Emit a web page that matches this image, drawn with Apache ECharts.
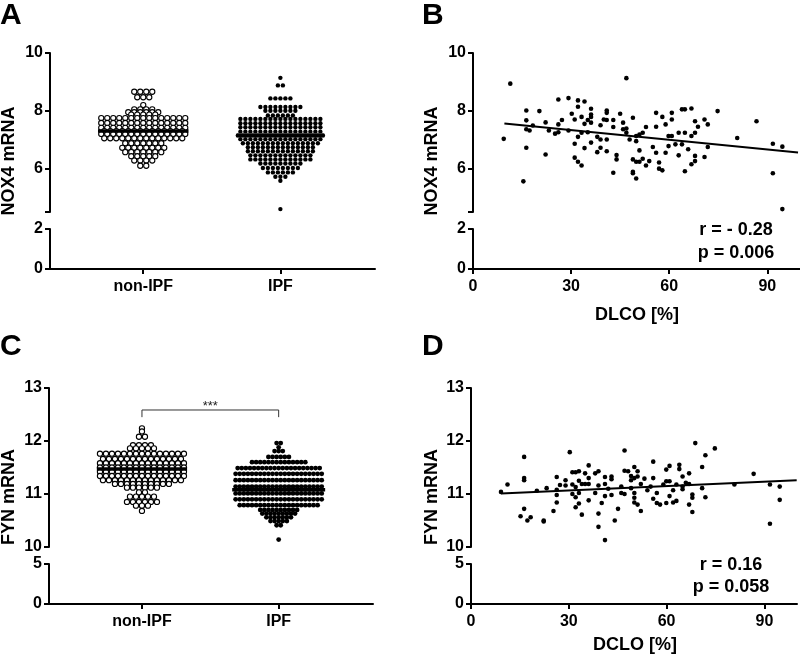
<!DOCTYPE html>
<html>
<head>
<meta charset="utf-8">
<script src="https://cdn.jsdelivr.net/npm/echarts@6/dist/echarts.min.js"></script>
<style>
  html, body { margin: 0; padding: 0; background: #fff; }
  #chart-container { width: 800px; height: 658px; }
</style>
</head>
<body>
<div id="chart-container"></div>
<script>
// dot plot rows: [value, dots in that row]
var nox4NonIpfRows = [
  [8.66, 4], [8.47, 3], [8.2, 1], [8.05, 4], [7.95, 6], [7.87, 5], [7.75, 15], [7.58, 15],
  [7.41, 15], [7.3, 14], [7.2, 15], [7.05, 14], [6.88, 7], [6.72, 8], [6.57, 7],
  [6.43, 5], [6.28, 4], [6.1, 2]
];
var nox4IpfRows = [
  [9.14, 1], [8.88, 2], [8.43, 5], [8.13, 9], [8.0, 7], [7.84, 6], [7.72, 17], [7.57, 17],
  [7.43, 17], [7.28, 17], [7.15, 18], [7.02, 17], [6.88, 16], [6.74, 14], [6.6, 14],
  [6.46, 13], [6.32, 13], [6.18, 9], [6.02, 8], [5.87, 6], [5.72, 3], [5.58, 1], [4.6, 1]
];
var fynNonIpfRows = [
  [12.24, 1], [12.18, 1], [12.08, 2], [11.92, 4], [11.86, 5], [11.76, 15], [11.66, 14],
  [11.58, 15], [11.5, 15], [11.42, 15], [11.34, 15], [11.26, 14], [11.19, 10], [11.12, 6],
  [11.03, 2], [10.95, 5], [10.85, 6], [10.78, 3], [10.68, 1]
];
var fynIpfRows = [
  [11.96, 2], [11.88, 1], [11.81, 3], [11.7, 6], [11.6, 14], [11.49, 21], [11.38, 22],
  [11.26, 22], [11.14, 22], [11.01, 22], [10.9, 22], [10.79, 20], [10.7, 10], [10.63, 9],
  [10.56, 7], [10.49, 5], [10.41, 2], [10.14, 1]
];
var groupNames = ['non-IPF', 'IPF'];
var nox4Means = [7.3, 7.15];
var fynMeans = [11.47, 11.08];

// DLCO [%] vs mRNA
var dlcoNox4 = [
  [9.4, 7.03], [11.4, 8.94], [15.4, 5.56], [16.3, 8.01], [16.3, 7.67], [16.3, 7.36], [16.3, 6.72],
  [17.3, 7.32], [18.3, 7.49], [20.3, 7.99], [22.2, 7.6], [22.2, 6.49], [23.2, 7.32], [25.1, 7.21],
  [26.1, 8.39], [26.1, 7.53], [26.1, 7.26], [27.2, 7.68], [29.2, 8.44], [29.2, 7.32], [30.2, 7.9],
  [31.1, 7.7], [31.1, 6.86], [31.1, 6.38], [32.1, 8.36], [32.1, 8.14], [32.1, 7.1], [32.1, 6.24],
  [33.2, 7.79], [33.2, 7.24], [33.2, 6.11], [34.1, 8.32], [34.1, 7.55], [34.1, 6.71], [35.1, 7.68],
  [35.1, 7.26], [36.1, 8.07], [36.1, 7.87], [36.1, 7.79], [36.1, 7.59], [36.1, 6.9], [38, 7.1],
  [38, 6.57], [39, 7.5], [39, 7.01], [39, 6.72], [40, 7.7], [40.9, 8.01], [40.9, 7.93], [40.9, 7.68],
  [40.9, 7.01], [40.9, 6.6], [42.9, 7.68], [42.9, 7.44], [42.9, 5.86], [43.9, 6.47], [43.9, 6.32],
  [45, 7.9], [45.9, 7.59], [45.9, 7.36], [46.9, 9.13], [46.9, 7.39], [46.9, 7.24], [47.9, 7.01],
  [48.9, 7.76], [48.9, 6.32], [48.9, 5.89], [48.9, 5.84], [49.9, 7.13], [49.9, 6.95], [49.9, 6.24],
  [49.9, 5.66], [50.9, 7.18], [50.9, 6.63], [50.9, 6.24], [51.9, 7.24], [51.9, 6.34], [52.9, 7.44],
  [52.9, 6.11], [53.9, 6.26], [55, 6.75], [56, 7.93], [56, 7.45], [56, 6.55], [56.9, 6.21],
  [56.9, 6.0], [57.9, 7.79], [57.9, 5.94], [58.9, 7.53], [58.9, 6.55], [59.8, 7.13], [59.8, 6.78],
  [60.8, 7.93], [60.8, 7.7], [60.8, 7.13], [61.9, 6.84], [62.9, 7.24], [62.9, 6.46], [63.9, 8.05],
  [63.9, 6.84], [64.8, 8.05], [64.8, 7.24], [64.8, 5.91], [65.8, 6.67], [66.8, 8.08], [66.8, 7.13],
  [66.8, 6.15], [67.9, 7.64], [67.9, 7.24], [67.9, 6.44], [67.9, 6.26], [68.8, 7.45], [70.8, 7.7],
  [70.8, 6.4], [71.8, 7.53], [71.8, 6.75], [74.8, 7.99], [80.8, 7.06], [86.7, 7.64], [91.7, 6.86],
  [91.7, 5.84], [94.6, 6.76], [94.6, 4.6]
];
var dlcoFyn = [
  [9.2, 11.04], [11.2, 11.18], [15.2, 10.58], [16.3, 11.7], [16.3, 11.3], [16.3, 11.26], [16.3, 10.72],
  [17.3, 10.5], [18.3, 10.56], [20.2, 11.06], [22.3, 10.5], [22.3, 10.48], [23.2, 11.11], [25.3, 10.68],
  [26.3, 11.32], [26.3, 11.08], [26.3, 10.98], [26.3, 10.84], [27.3, 11.17], [29, 11.26], [29, 11.16],
  [30.3, 11.79], [31.1, 11.41], [31.1, 11.18], [31.1, 11.0], [32.1, 11.41], [32.1, 11.13], [32.1, 10.94],
  [32.1, 10.75], [33.1, 11.43], [33.1, 11.25], [33.1, 11.02], [33.1, 10.82], [34, 11.19], [34, 10.61],
  [35, 11.39], [35, 11.19], [36.1, 11.54], [36.1, 11.3], [36.1, 11.19], [36.1, 10.88], [38.1, 11.39],
  [38.1, 11.02], [39.1, 11.43], [39.1, 11.16], [39.1, 10.63], [39.1, 10.38], [40.1, 10.83], [41.1, 11.32],
  [41.1, 11.19], [41.1, 10.96], [41.1, 10.13], [42.1, 11.1], [43.1, 11.33], [43.1, 11.28], [43.1, 10.98],
  [44.1, 10.5], [45.1, 10.72], [46.1, 11.14], [46.1, 11.02], [47.1, 11.82], [47.1, 11.44], [47.1, 11.0],
  [48.2, 11.43], [49.1, 11.34], [49.1, 11.26], [49.1, 11.11], [50.1, 11.51], [50.1, 11.3], [50.1, 11.02],
  [50.1, 10.93], [50.1, 10.84], [51.1, 11.43], [51.1, 11.33], [51.1, 10.8], [52.1, 10.68], [52.1, 11.19],
  [53.2, 11.29], [54.1, 11.07], [55.1, 11.14], [55.9, 11.61], [55.9, 11.3], [55.9, 10.91], [57, 11.02],
  [57, 10.83], [58, 10.8], [59, 11.18], [59.9, 11.24], [59.9, 10.83], [59.9, 11.46], [60.9, 11.53],
  [60.9, 11.24], [60.9, 10.96], [62, 11.07], [62, 10.84], [63, 10.87], [63, 11.18], [63.9, 11.55],
  [63.9, 11.47], [64.9, 11.33], [64.9, 11.14], [64.9, 11.09], [65.9, 11.21], [66.9, 11.39], [66.9, 11.19],
  [66.9, 10.8], [67.9, 10.99], [67.9, 10.93], [67.9, 10.66], [68.8, 11.96], [70.9, 11.51], [70.9, 11.11],
  [71.9, 11.73], [71.9, 10.94], [74.8, 11.86], [80.8, 11.18], [86.7, 11.38], [91.7, 11.18], [91.7, 10.44],
  [94.7, 11.14], [94.7, 10.89]
];
var nox4Fit = [[9.6, 7.56], [99.4, 6.56]];
var fynFit = [[9.2, 11.01], [99.9, 11.26]];
var nox4Stats = ['r = - 0.28', 'p = 0.006'];
var fynStats = ['r = 0.16', 'p = 0.058'];
var dlcoTicks = [0, 30, 60, 90];

var FONT = '"Liberation Sans", Arial, sans-serif';
var catMin = 0.32, catMax = 2.69;

// spread the dots of each row side by side around the group centre
function dotRows(rows, center, stepPx, pxPerUnit) {
  var out = [];
  rows.forEach(function (r) {
    for (var i = 0; i < r[1]; i++) {
      out.push([center + (i - (r[1] - 1) / 2) * stepPx / pxPerUnit, r[0]]);
    }
  });
  return out;
}

var grids = [
  { left: 50, top: 53, width: 325, height: 159 },
  { left: 50, top: 229, width: 325, height: 40 },
  { left: 473, top: 53, width: 327, height: 159 },
  { left: 473, top: 229, width: 327, height: 40 },
  { left: 49, top: 388, width: 324, height: 159 },
  { left: 49, top: 564, width: 324, height: 40 },
  { left: 471, top: 388, width: 326, height: 159 },
  { left: 471, top: 564, width: 326, height: 40 }
];

var axisLabelStyle = { color: '#000', fontSize: 16, fontWeight: 'bold', fontFamily: FONT };

function yAx(gi, min, max, labels, ticks) {
  return {
    type: 'value', gridIndex: gi, min: min, max: max,
    axisLine: { show: true, onZero: false, lineStyle: { color: '#000', width: 2 } },
    axisTick: { show: true, length: 5, customValues: ticks, lineStyle: { color: '#000', width: 2 } },
    axisLabel: Object.assign({ customValues: labels, margin: 7 }, axisLabelStyle),
    splitLine: { show: false }
  };
}

function xAx(gi, kind, visible) {
  var a = {
    type: 'value', gridIndex: gi, show: visible,
    axisLine: { show: true, onZero: false, lineStyle: { color: '#000', width: 2 } },
    axisTick: { show: true, length: 5, lineStyle: { color: '#000', width: 2 } },
    axisLabel: Object.assign({ margin: 10 }, axisLabelStyle),
    splitLine: { show: false }
  };
  if (kind === 'cat') {
    a.min = catMin; a.max = catMax;
    a.axisTick.customValues = [1, 2];
    a.axisLabel.customValues = [1, 2];
    a.axisLabel.formatter = function (v) { return groupNames[Math.round(v) - 1]; };
  } else {
    a.min = 0; a.max = 100;
    a.axisTick.customValues = dlcoTicks;
    a.axisLabel.customValues = dlcoTicks;
  }
  return a;
}

var xAxes = [
  xAx(0, 'cat', false), xAx(1, 'cat', true),
  xAx(2, 'num', false), xAx(3, 'num', true),
  xAx(4, 'cat', false), xAx(5, 'cat', true),
  xAx(6, 'num', false), xAx(7, 'num', true)
];
var yAxes = [
  yAx(0, 4.5, 10, [6, 8, 10], [4.5, 6, 8, 10]), yAx(1, 0, 2, [0, 2], [0, 2]),
  yAx(2, 4.5, 10, [6, 8, 10], [4.5, 6, 8, 10]), yAx(3, 0, 2, [0, 2], [0, 2]),
  yAx(4, 10, 13, [10, 11, 12, 13], [10, 11, 12, 13]), yAx(5, 0, 5, [0, 5], [0, 5]),
  yAx(6, 10, 13, [10, 11, 12, 13], [10, 11, 12, 13]), yAx(7, 0, 5, [0, 5], [0, 5])
];

var pxA = 325 / (catMax - catMin);
var pxC = 324 / (catMax - catMin);

function openDots(data, idx) {
  return {
    type: 'scatter', xAxisIndex: idx, yAxisIndex: idx, data: data, symbolSize: 5.2, z: 2,
    itemStyle: { color: '#fff', borderColor: '#000', borderWidth: 1.1, opacity: 1 },
    emphasis: { disabled: true }
  };
}
function fullDots(data, idx, size) {
  return {
    type: 'scatter', xAxisIndex: idx, yAxisIndex: idx, data: data, symbolSize: size, z: 2,
    itemStyle: { color: '#000', opacity: 1 }, emphasis: { disabled: true }
  };
}
function meanLine(center, mean, half, idx) {
  return {
    type: 'line', xAxisIndex: idx, yAxisIndex: idx, symbol: 'none', z: 4,
    data: [[center - half, mean], [center + half, mean]],
    lineStyle: { color: '#000', width: 3.5 }
  };
}
function fitLine(data, idx) {
  return {
    type: 'line', xAxisIndex: idx, yAxisIndex: idx, symbol: 'none', z: 4, data: data,
    lineStyle: { color: '#000', width: 2 }
  };
}

var series = [
  openDots(dotRows(nox4NonIpfRows, 1, 6, pxA), 0),
  fullDots(dotRows(nox4IpfRows, 2, 5, pxA), 0, 4.4),
  meanLine(1, nox4Means[0], 0.33, 0),
  meanLine(2, nox4Means[1], 0.32, 0),
  fullDots(dlcoNox4, 2, 4.6),
  fitLine(nox4Fit, 2),
  openDots(dotRows(fynNonIpfRows, 1, 6, pxC), 4),
  fullDots(dotRows(fynIpfRows, 2, 4.1, pxC), 4, 4.8),
  meanLine(1, fynMeans[0], 0.33, 4),
  meanLine(2, fynMeans[1], 0.34, 4),
  // significance bracket
  {
    type: 'line', xAxisIndex: 4, yAxisIndex: 4, symbol: 'none', z: 4,
    data: [[1, 12.45], [1, 12.585], [2, 12.585], [2, 12.45]],
    lineStyle: { color: '#333', width: 1 },
    markPoint: {
      symbol: 'circle', symbolSize: 0,
      data: [{ coord: [1.5, 12.66] }],
      label: { show: true, formatter: '***', color: '#222', fontSize: 13, fontFamily: FONT }
    }
  },
  fullDots(dlcoFyn, 6, 4.6),
  fitLine(fynFit, 6)
];

function txt(x, y, s, size, rot, align) {
  return {
    type: 'text', x: x, y: y, rotation: rot || 0,
    style: {
      text: s, fill: '#000', font: 'bold ' + size + 'px ' + FONT,
      textAlign: align || 'center', textVerticalAlign: 'middle'
    }
  };
}

var graphics = [
  txt(0, 16, 'A', 30, 0, 'left'),
  txt(422, 16, 'B', 30, 0, 'left'),
  txt(0, 347, 'C', 30, 0, 'left'),
  txt(422, 347, 'D', 30, 0, 'left'),
  txt(9, 161, 'NOX4 mRNA', 18, Math.PI / 2),
  txt(432, 161, 'NOX4 mRNA', 18, Math.PI / 2),
  txt(9, 497, 'FYN mRNA', 18, Math.PI / 2),
  txt(432, 497, 'FYN mRNA', 18, Math.PI / 2),
  txt(637, 315, 'DLCO [%]', 18),
  txt(635, 645, 'DCLO [%]', 18),
  txt(736, 230, nox4Stats[0], 18),
  txt(736, 253, nox4Stats[1], 18),
  txt(731, 565, fynStats[0], 18),
  txt(731, 587, fynStats[1], 18)
];

var dom = document.getElementById('chart-container');
var myChart = echarts.init(dom, null, { renderer: 'canvas' });
var option = {
  animation: false,
  backgroundColor: '#fff',
  grid: grids,
  xAxis: xAxes,
  yAxis: yAxes,
  series: series,
  graphic: graphics
};
myChart.setOption(option);
window.addEventListener('resize', myChart.resize);
</script>
</body>
</html>
